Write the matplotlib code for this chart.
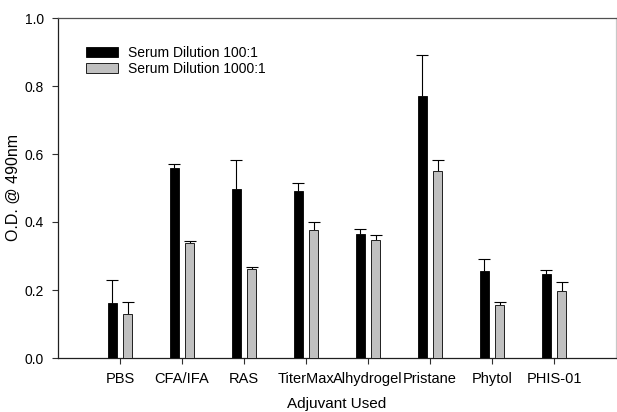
import matplotlib
matplotlib.use("Agg")
import matplotlib.pyplot as plt
import numpy as np

plt.rcParams['font.family'] = ['Liberation Sans', 'DejaVu Sans']

adjuvants = ["PBS", "CFA/IFA", "RAS", "TiterMax", "Alhydrogel", "Pristane", "Phytol", "PHIS-01"]
dil_100 = [0.161, 0.558, 0.497, 0.491, 0.365, 0.771, 0.257, 0.248]
dil_100_err = [0.068, 0.012, 0.084, 0.023, 0.015, 0.121, 0.035, 0.012]
dil_1000 = [0.130, 0.337, 0.262, 0.376, 0.348, 0.549, 0.155, 0.198]
dil_1000_err = [0.036, 0.008, 0.006, 0.024, 0.014, 0.034, 0.009, 0.025]

fig = plt.figure(figsize=(6.17, 4.12), dpi=100)
ax = fig.add_axes([58/617, 1 - 358/412, 558/617, 340/412])

x = np.arange(1, len(adjuvants) + 1)
w = 0.137
off = 0.123


def up_errors(xpos, vals, errs):
    # only the upper half of each error bar, no cap at the bar top
    eb = ax.errorbar(xpos, vals, yerr=[np.zeros(len(vals)), errs], fmt='none',
                     ecolor='black', elinewidth=0.8, capsize=4, capthick=0.8, zorder=2)
    for cap in eb.lines[1]:
        if np.allclose(cap.get_ydata(), vals):
            cap.set_visible(False)


ax.bar(x - off, dil_100, w, color='black', edgecolor='black', linewidth=0.6,
       label='Serum Dilution 100:1', zorder=3)
ax.bar(x + off, dil_1000, w, color='#c0c0c0', edgecolor='#202020', linewidth=0.7,
       label='Serum Dilution 1000:1', zorder=3)
up_errors(x - off, dil_100, dil_100_err)
up_errors(x + off, dil_1000, dil_1000_err)

ax.set_xlim(0, 9)
ax.set_ylim(0, 1.0)
ax.set_xticks(x)
ax.set_xticklabels(adjuvants, fontsize=10.5)
ax.set_yticks([0.0, 0.2, 0.4, 0.6, 0.8, 1.0])
ax.set_yticklabels(["0.0", "0.2", "0.4", "0.6", "0.8", "1.0"], fontsize=10)
ax.tick_params(axis='both', direction='out', length=4, width=0.8, color='#303030')
ax.tick_params(axis='x', pad=6)
ax.tick_params(axis='y', pad=6)

ax.set_xlabel("Adjuvant Used", fontsize=11, va='center')
ax.xaxis.set_label_coords(0.5, (358 - 404) / 340)
ax.set_ylabel("O.D. @ 490nm", fontsize=11.5, va='center')
ax.yaxis.set_label_coords((13 - 58) / 558, 0.5)

for s in ['left', 'bottom']:
    ax.spines[s].set_color('#202020')
    ax.spines[s].set_linewidth(0.9)
ax.spines['top'].set_color('#505050')
ax.spines['top'].set_linewidth(0.9)
ax.spines['right'].set_color('#c8c8c8')
ax.spines['right'].set_linewidth(0.9)

leg = ax.legend(loc='upper left', bbox_to_anchor=(0.05, 0.917), frameon=False,
                fontsize=10, handlelength=2.3, handleheight=0.75,
                handletextpad=0.7, labelspacing=0.12, borderaxespad=0,
                borderpad=0)

fig.savefig("out.png", dpi=100)
